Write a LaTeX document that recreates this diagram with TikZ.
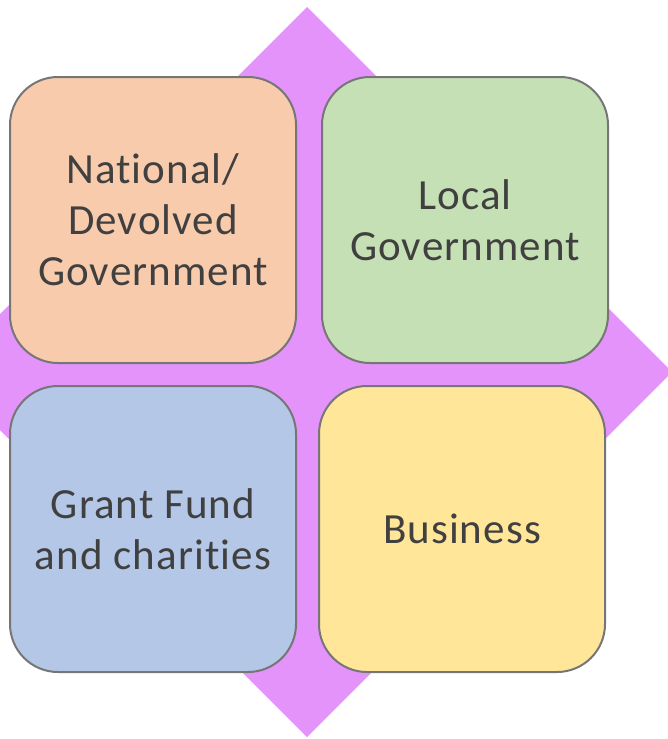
\documentclass[tikz,border=0pt]{standalone}
\usepackage{fontspec}
\setmainfont{Carlito}[Ligatures=NoCommon, LetterSpace=2.5]
\definecolor{diam}{HTML}{E393F9}
\definecolor{edge}{HTML}{767676}
\definecolor{txt}{HTML}{404040}
\definecolor{peach}{HTML}{F8CBAD}
\definecolor{leaf}{HTML}{C5E0B4}
\definecolor{sky}{HTML}{B4C7E7}
\definecolor{sun}{HTML}{FFE699}
\tikzset{
  quad/.style={draw=edge, line width=2pt, rounded corners=48pt,
    minimum width=286pt, minimum height=286pt, inner sep=0pt,
    align=center, text=txt, font=\fontsize{43}{51}\selectfont}
}
\begin{document}
\begin{tikzpicture}[x=1pt,y=-1pt]
\useasboundingbox (0,0) rectangle (668,739);
\begin{scope}
\clip (0,0) rectangle (668,739);
\fill[diam] (307,7) -- (672,372) -- (307,737) -- (-58,372) -- cycle;
\end{scope}
\node[quad, fill=peach] (nat) at (153,220) {National/\\Devolved\\Government};
\node[quad, fill=leaf] (loc) at (465,220) {Local\\Government};
\node[quad, fill=sky] (grant) at (153,529) {Grant Fund\\and charities};
\node[quad, fill=sun] (bus) at (462,529) {Business};
\end{tikzpicture}
\end{document}
